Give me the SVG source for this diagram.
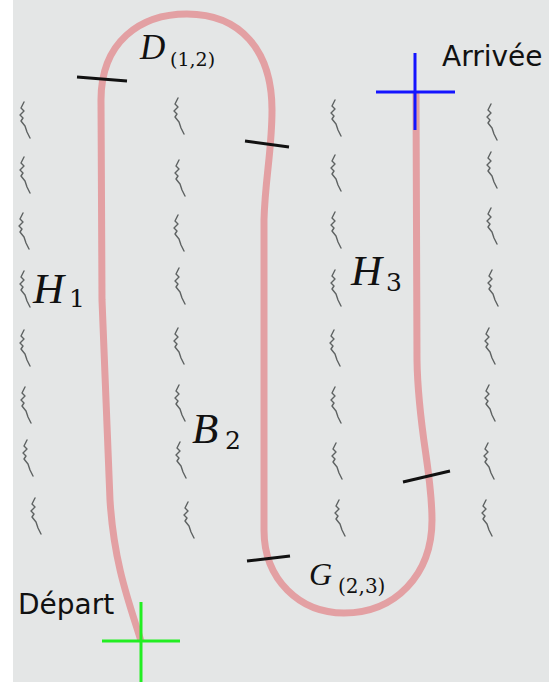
<svg xmlns="http://www.w3.org/2000/svg" xmlns:xlink="http://www.w3.org/1999/xlink" width="549" height="682" viewBox="0 0 549 682">
  <style>
    .plant { fill: none; stroke: #5e6262; stroke-width: 1.4; stroke-linejoin: round; stroke-linecap: round; }
    .route { fill: none; stroke: #e3a0a3; stroke-width: 7; stroke-linecap: butt; stroke-linejoin: round; }
    .tick { stroke: #111; stroke-width: 3; }
    .m { font-family: "Liberation Serif", "DejaVu Serif", serif; font-style: italic; fill: #111; }
    .s { font-family: "DejaVu Serif", "Liberation Serif", serif; fill: #111; }
    .lbl { font-family: "DejaVu Sans", "Liberation Sans", sans-serif; font-size: 28px; fill: #111; }
  </style>
  <defs>
    <path id="pl" class="plant" d="M2,0 L-1,6 L2,9 L-2,13 L1,16 L-1,19 L3,24 L5,30 L8,36"/>
  </defs>
  <rect x="0" y="0" width="549" height="682" fill="#ffffff"/>
  <rect x="13" y="0" width="536" height="682" fill="#e4e6e6"/>

  <g id="plants">
    <use xlink:href="#pl" x="22" y="102"/><use xlink:href="#pl" x="22" y="157"/><use xlink:href="#pl" x="21" y="213"/><use xlink:href="#pl" x="22" y="271"/>
    <use xlink:href="#pl" x="22" y="330"/><use xlink:href="#pl" x="23" y="387"/><use xlink:href="#pl" x="25" y="440"/><use xlink:href="#pl" x="33" y="498"/>
    <use xlink:href="#pl" x="176" y="98"/><use xlink:href="#pl" x="177" y="160"/><use xlink:href="#pl" x="176" y="215"/><use xlink:href="#pl" x="177" y="268"/>
    <use xlink:href="#pl" x="176" y="328"/><use xlink:href="#pl" x="177" y="385"/><use xlink:href="#pl" x="178" y="442"/><use xlink:href="#pl" x="186" y="502"/>
    <use xlink:href="#pl" x="333" y="100"/><use xlink:href="#pl" x="333" y="155"/><use xlink:href="#pl" x="333" y="212"/><use xlink:href="#pl" x="333" y="270"/>
    <use xlink:href="#pl" x="332" y="330"/><use xlink:href="#pl" x="333" y="387"/><use xlink:href="#pl" x="334" y="443"/><use xlink:href="#pl" x="337" y="500"/>
    <use xlink:href="#pl" x="489" y="104"/><use xlink:href="#pl" x="489" y="152"/><use xlink:href="#pl" x="489" y="208"/><use xlink:href="#pl" x="490" y="270"/>
    <use xlink:href="#pl" x="487" y="328"/><use xlink:href="#pl" x="487" y="385"/><use xlink:href="#pl" x="486" y="443"/><use xlink:href="#pl" x="484" y="500"/>
  </g>

  <g id="connectors">
    <path class="route" d="M141,641 C130,605 114,565 110,500 L102,300 L101,100 C101,42 140,14 187,14 C240,14 272,50 272,110 C272,150 265,180 264,220 L264,530 C264,580 300,613 344,613 C395,613 432,575 432,520 C432,470 418,430 417,360 L416,92"/>
  </g>

  <g id="ticks">
    <line class="tick" x1="77" y1="77" x2="127" y2="81"/>
    <line class="tick" x1="245" y1="141" x2="289" y2="147"/>
    <line class="tick" x1="247" y1="561" x2="290" y2="556"/>
    <line class="tick" x1="403" y1="482" x2="450" y2="471"/>
  </g>

  <g id="arrivee">
    <line x1="376" y1="92" x2="455" y2="92" stroke="#1414ff" stroke-width="3"/>
    <line x1="415" y1="53" x2="415" y2="130" stroke="#1414ff" stroke-width="3"/>
    <text class="lbl" x="442" y="66">Arrivée</text>
  </g>

  <g id="depart">
    <line x1="102" y1="641" x2="180" y2="641" stroke="#22ee22" stroke-width="3"/>
    <line x1="141" y1="602" x2="141" y2="682" stroke="#22ee22" stroke-width="3"/>
    <text class="lbl" x="18" y="614">Départ</text>
  </g>

  <g id="D12">
    <text class="m" x="140" y="59" font-size="35">D</text>
    <text class="s" x="170" y="66" font-size="19">(1,2)</text>
  </g>
  <g id="H1">
    <text class="m" x="33" y="303" font-size="43">H</text>
    <text class="s" x="69" y="307" font-size="25">1</text>
  </g>
  <g id="H3">
    <text class="m" x="351" y="285" font-size="43">H</text>
    <text class="s" x="386" y="291" font-size="25">3</text>
  </g>
  <g id="B2">
    <text class="m" x="192" y="443" font-size="43">B</text>
    <text class="s" x="225" y="449" font-size="25">2</text>
  </g>
  <g id="G23">
    <text class="m" x="309" y="585" font-size="32">G</text>
    <text class="s" x="338" y="593" font-size="20">(2,3)</text>
  </g>
</svg>
